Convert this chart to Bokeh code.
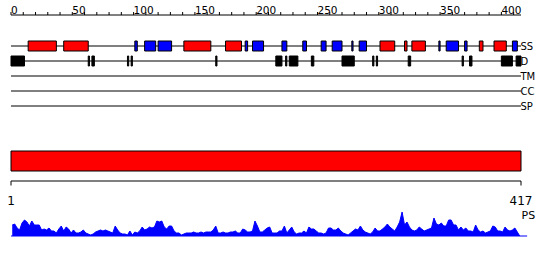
from bokeh.plotting import figure
from bokeh.models import Range1d
from bokeh.core.properties import value
from bokeh.embed import file_html
from bokeh.resources import INLINE

# ---------------- data ----------------
seq_len = 417
ruler_labels = [0, 50, 100, 150, 200, 250, 300, 350, 400]
ruler_minor = list(range(0, 411, 10))

row_names = ["SS", "D", "TM", "CC", "SP"]

helix_start = [15, 44, 142, 176, 302, 322, 328, 383, 395]
helix_end   = [38, 64, 164, 189, 314, 324, 339, 386, 405]
strand_start = [102, 110, 121, 192, 198, 222, 239, 254, 263, 279, 285, 350, 356, 371, 410]
strand_end   = [104, 119, 132, 194, 207, 226, 242, 258, 271, 280, 291, 351, 366, 373, 414]

dis_start = [1, 64, 67, 96, 99, 168, 217, 225, 228, 246, 271, 296, 299, 325, 369, 375, 401, 413]
dis_end   = [12, 65, 69, 97, 100, 169, 222, 226, 235, 248, 281, 297, 300, 327, 370, 377, 410, 417]

domain_start = [1]
domain_end = [417]

ps_pos = list(range(2, 417, 2))
ps_val = [
    11, 12, 8, 6, 13, 16, 14, 10, 15, 11,
    11, 11, 6, 7, 6, 8, 5, 5, 3, 7,
    10, 5, 9, 7, 3, 6, 3, 3, 4, 6,
    3, 2, 1, 2, 4, 5, 6, 5, 6, 5,
    4, 3, 10, 6, 3, 2, 2, 1, 5, 1,
    4, 3, 5, 9, 6, 7, 9, 8, 9, 15,
    14, 15, 9, 7, 10, 10, 5, 3, 3, 1,
    2, 3, 3, 3, 4, 3, 3, 4, 3, 4,
    4, 4, 6, 10, 3, 3, 4, 3, 3, 4,
    4, 5, 3, 3, 7, 6, 4, 4, 5, 15,
    10, 4, 4, 6, 8, 9, 3, 3,
    3, 5, 5, 10, 3, 6, 9, 4, 2, 3,
    3, 5, 3, 9, 7, 7, 5, 3, 3, 2,
    3, 8, 8, 6, 6, 8, 5, 3, 2, 1,
    3, 5, 7, 6, 10, 6, 4, 3, 2, 4,
    8, 5, 5, 7, 9, 12, 9, 7, 5, 9,
    14, 24, 11, 14, 9, 6, 5, 6, 9, 7,
    5, 6, 7, 8, 18, 12, 11, 13, 10, 10,
    16, 16, 11, 11, 6, 9, 6, 8, 5, 5,
    4, 11, 6, 4, 5, 3, 4, 5, 10, 9,
    5, 5, 4, 9, 6, 5, 6, 8, 4, 0,
]

# ---------------- layout ----------------
PX = 510 / 416.0          # pixels per residue
X0 = 10.5                 # pixel of residue 1
xr = Range1d(1 - X0 / PX, 1 + (550 - X0) / PX)

p = figure(width=550, height=260, x_range=xr, y_range=Range1d(260, 0),
           output_backend="svg", toolbar_location=None,
           x_axis_type=None, y_axis_type=None, min_border=0)
p.grid.visible = False
p.outline_line_color = None
p.background_fill_color = "white"
p.border_fill_color = "white"
p.extra_y_ranges = {"ps": Range1d(235.5 - 260, 235.5)}

FONT = value("DejaVu Sans")

# top ruler
ruler_y = 14.5
p.segment(x0=[1], y0=[ruler_y], x1=[seq_len], y1=[ruler_y], line_color="black", line_width=1)
p.segment(x0=[t + 1 for t in ruler_minor], y0=ruler_y - 3, x1=[t + 1 for t in ruler_minor],
          y1=ruler_y, line_color="black", line_width=1)
p.text(x=[t + 1 for t in ruler_labels], y=9.5, text=[str(t) for t in ruler_labels],
       text_font=FONT, text_font_size="10.5px", text_baseline="alphabetic",
       text_align="left", text_color="black")

# track rows
row_y = [45.5, 60.5, 75.5, 90.5, 105.5]
p.segment(x0=1, y0=row_y, x1=seq_len, y1=row_y, line_color="black", line_width=1)
p.text(x=seq_len, y=row_y, text=row_names, x_offset=-0.5, text_font=FONT,
       text_font_size="10px", text_baseline="middle", text_align="left", text_color="black")

# secondary structure
p.quad(left=helix_start, right=helix_end, top=40.5, bottom=50.5,
       fill_color="#ff0000", line_color="black", line_width=1)
p.quad(left=strand_start, right=strand_end, top=40.5, bottom=50.5,
       fill_color="#0000ff", line_color="black", line_width=1)

# disorder
p.quad(left=dis_start, right=dis_end, top=55.5, bottom=65.5,
       fill_color="black", line_color="black", line_width=1)

# domain bar
p.quad(left=domain_start, right=domain_end, top=150.5, bottom=170.5,
       fill_color="#ff0000", line_color="black", line_width=1)

# bottom ruler
p.segment(x0=[1], y0=[180.5], x1=[seq_len], y1=[180.5], line_color="black")
p.segment(x0=[1, seq_len], y0=180.5, x1=[1, seq_len], y1=185, line_color="black")
p.text(x=[1, seq_len], y=200, text=["1", str(seq_len)], text_font=FONT,
       text_font_size="12px", text_baseline="alphabetic", text_align="center",
       text_color="black")

# PS profile
p.varea(x=ps_pos, y1=0, y2=ps_val, fill_color="#0000ff", y_range_name="ps")
p.line(x=ps_pos, y=ps_val, line_color="#0000ff", line_width=1, y_range_name="ps")
p.segment(x0=[1], y0=[0], x1=[seq_len + 5], y1=[0], line_color="#0000ff",
          y_range_name="ps")
p.text(x=[seq_len], y=215, text=["PS"], x_offset=0.5, text_font=FONT,
       text_font_size="11px", text_baseline="alphabetic", text_align="left",
       text_color="black")

open("out.html", "w").write(file_html(p, INLINE))
